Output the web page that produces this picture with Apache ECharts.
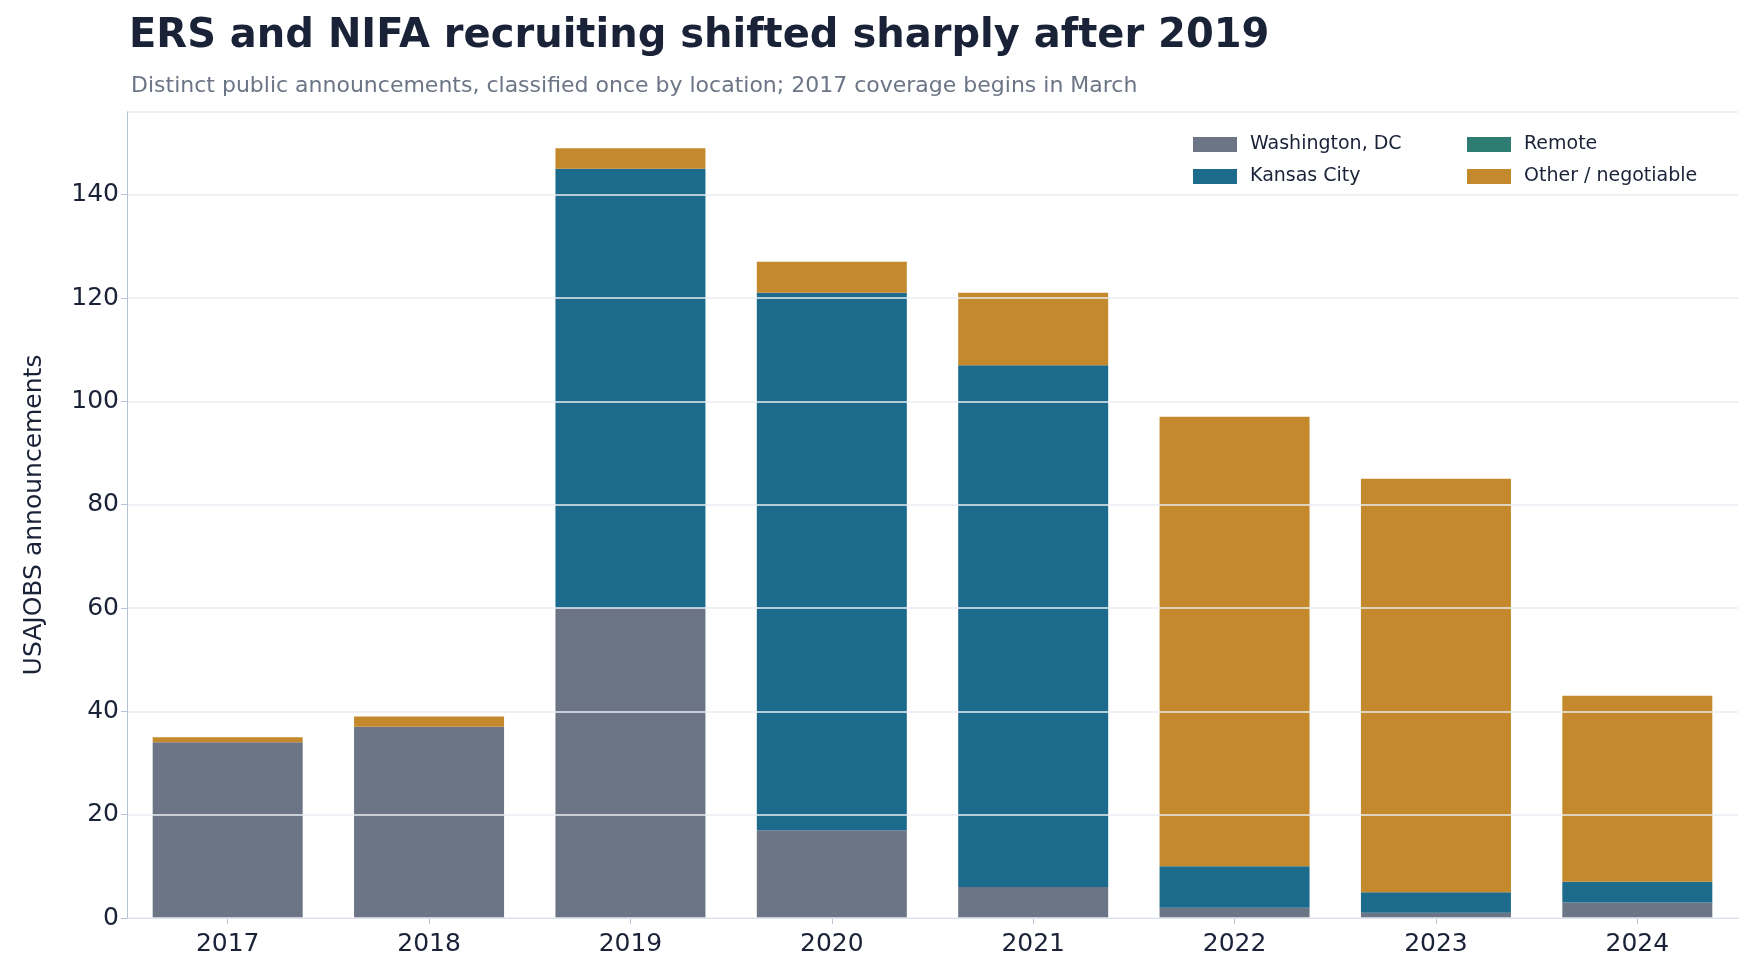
<!DOCTYPE html><html><head><meta charset="utf-8"><script src="https://cdn.jsdelivr.net/npm/echarts@6/dist/echarts.min.js"></script>
<style>html,body{margin:0;background:#fff}#c{width:1748px;height:978px}</style></head><body><div id="c"></div><script>
const years=['2017','2018','2019','2020','2021','2022','2023','2024'];
const dc=[34,37,60,17,6,2,1,3];
const kc=[0,0,85,104,101,8,4,4];
const remote=[0,0,0,0,0,0,0,0];
const other=[1,2,4,6,14,87,80,36];
const names=['Washington, DC','Kansas City','Remote','Other / negotiable'];
const colors=['#6b7586','#1c6b8c','#2e7d72','#c4892d'];
const vals=[dc,kc,remote,other];
const ch=echarts.init(document.getElementById('c'));
const font='DejaVu Sans';
ch.setOption({
 textStyle:{fontFamily:font},
 title:[{text:'ERS and NIFA recruiting shifted sharply after 2019',left:124,top:12,textStyle:{fontSize:40,fontWeight:'bold',color:'#1a2238',fontFamily:font}},
 {text:'Distinct public announcements, classified once by location; 2017 coverage begins in March',left:126,top:70,textStyle:{fontSize:22,fontWeight:'normal',color:'#6b7586',fontFamily:font}}],
 legend:[{data:names.slice(0,2),left:1188,top:130,orient:'vertical',itemWidth:44,itemHeight:15,itemGap:13,icon:'rect',textStyle:{fontSize:19,color:'#1a2238',padding:[0,0,0,8]}},
 {data:names.slice(2),left:1462,top:130,orient:'vertical',itemWidth:44,itemHeight:15,itemGap:13,icon:'rect',textStyle:{fontSize:19,color:'#1a2238',padding:[0,0,0,8]}}],
 grid:{left:127,right:10,top:112,bottom:60},
 xAxis:{type:'category',data:years,
  axisLine:{lineStyle:{color:'#b8c2d6'}},axisTick:{show:true,alignWithLabel:true,length:6,lineStyle:{color:'#b8c2d6'}},
  axisLabel:{fontSize:25,color:'#1a2238',margin:14}},
 yAxis:{type:'value',min:0,max:156,interval:20,z:5,name:'USAJOBS announcements',nameLocation:'middle',nameGap:80,nameTextStyle:{fontSize:25,color:'#1a2238'},
  axisLine:{show:true,lineStyle:{color:'#b8c2d6'}},axisTick:{show:true,length:6,lineStyle:{color:'#b8c2d6'}},
  axisLabel:{fontSize:25,color:'#1a2238',showMaxLabel:false},splitLine:{lineStyle:{color:'#e8ecf2',width:1.5}}},
 series:vals.map((v,i)=>({name:names[i],type:'bar',stack:'s',barWidth:150,itemStyle:{color:colors[i]},data:v}))
});
</script></body></html>
